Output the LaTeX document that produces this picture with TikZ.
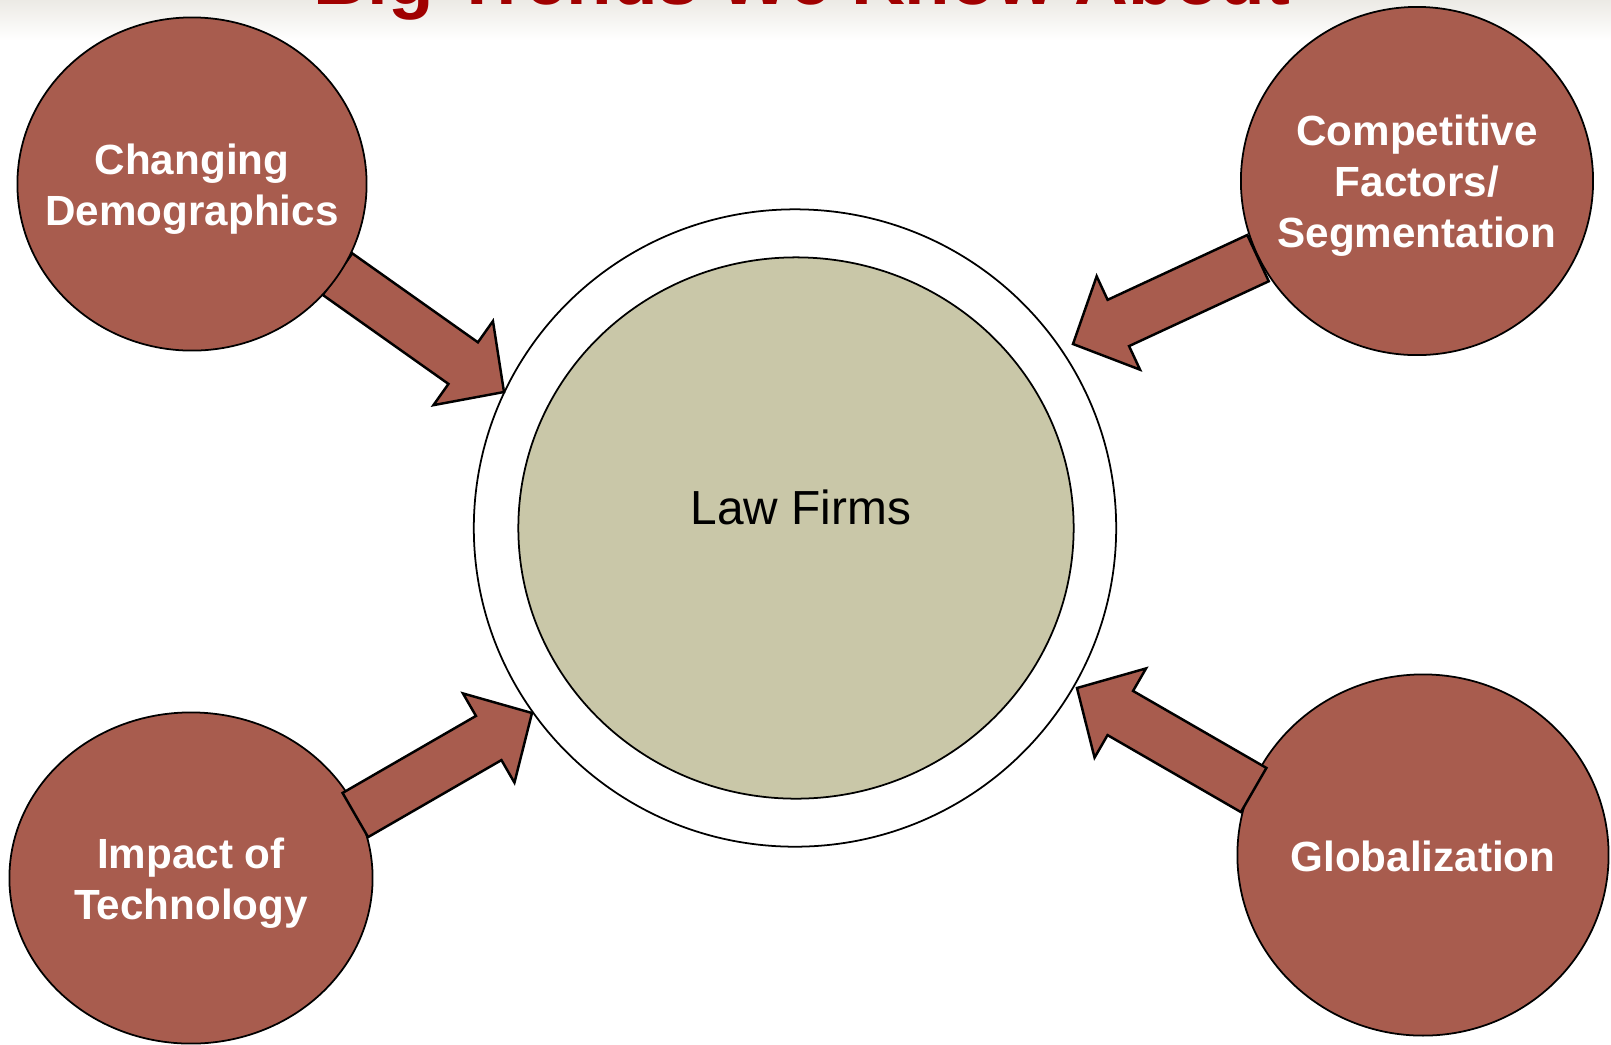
\documentclass[tikz,border=0pt]{standalone}
\usepackage{fontspec}
\setmainfont{Liberation Sans}
\usetikzlibrary{shapes.geometric,calc}
\definecolor{trendred}{RGB}{168,92,78}
\definecolor{lawgreen}{RGB}{201,199,168}
\definecolor{titlered}{RGB}{160,0,0}
\definecolor{slidetop}{RGB}{236,234,229}
\newcommand{\trendfont}{\bfseries\fontsize{12}{14.5}\selectfont}
\newcommand{\headlen}{50}
\newcommand{\headhalf}{51.5}
\newcommand{\shafthalf}{25.5}
\newcommand{\arrowlen}{204}
\newcommand{\bigarrow}[2]{\draw[blockarrow, shift={(#1)}, rotate=#2] (0,0) -- (-\headlen,\headhalf) -- (-\headlen,\shafthalf) -- (-\arrowlen,\shafthalf) -- (-\arrowlen,-\shafthalf) -- (-\headlen,-\shafthalf) -- (-\headlen,-\headhalf) -- cycle;}
\begin{document}
\begin{tikzpicture}[x=0.01cm,y=-0.01cm]
\tikzstyle{trend}=[ellipse,draw,line width=0.5pt,fill=trendred,inner sep=0pt]
\tikzstyle{trendtext}=[text=white,font=\trendfont,align=center,yshift=-.05cm]
\tikzstyle{blockarrow}=[draw,line width=0.7pt,fill=trendred,line join=miter]
\tikzstyle{ringstyle}=[ellipse,draw,line width=0.5pt,fill=white,inner sep=0pt]

\useasboundingbox (0,0) rectangle (1611,1044);
\clip (0,0) rectangle (1611,1044);

%% slide background and title (cut off at the top)
\shade[top color=slidetop,bottom color=white] (0,0) rectangle (1611,40);
\node[anchor=base,text=titlered,font=\bfseries\fontsize{21.2}{25}\selectfont] (title) at (802,4) {Big Trends We Know About};

%% lower trends sit below their arrows
\node (impact) [trend,minimum width=3.63cm,minimum height=3.31cm,
  label={[trendtext]center:Impact of\\Technology}] at (191,878) {};
\node (global) [trend,minimum width=3.71cm,minimum height=3.61cm,
  label={[trendtext,yshift=.04cm]center:Globalization}] at (1423,855) {};

%% law firms in the middle
\node (ring) [ringstyle,minimum width=6.42cm,minimum height=6.37cm] at (795,528) {};
\node (law) [ringstyle,fill=lawgreen,minimum width=5.55cm,minimum height=5.41cm] at (796,528) {};
\node (lawlabel) at ([xshift=.05cm,yshift=.21cm]law.center) {\fontsize{13.6}{16}\selectfont Law Firms};

%% arrow tips at the ring
\coordinate (tipdemo) at (504,392);
\coordinate (tipcomp) at (1073,344);
\coordinate (tipimpact) at (532,713);
\coordinate (tipglobal) at (1077,688);

\bigarrow{tipdemo}{-35.3}
\bigarrow{tipcomp}{-155.1}
\bigarrow{tipimpact}{30}
\bigarrow{tipglobal}{150}

%% upper trends sit on top of their arrows
\node (demo) [trend,minimum width=3.49cm,minimum height=3.33cm,
  label={[trendtext]center:Changing\\Demographics}] at (192,184) {};
\node (comp) [trend,minimum width=3.52cm,minimum height=3.48cm,
  label={[trendtext]center:Competitive\\Factors/\\Segmentation}] at (1417,181) {};

\end{tikzpicture}
\end{document}
